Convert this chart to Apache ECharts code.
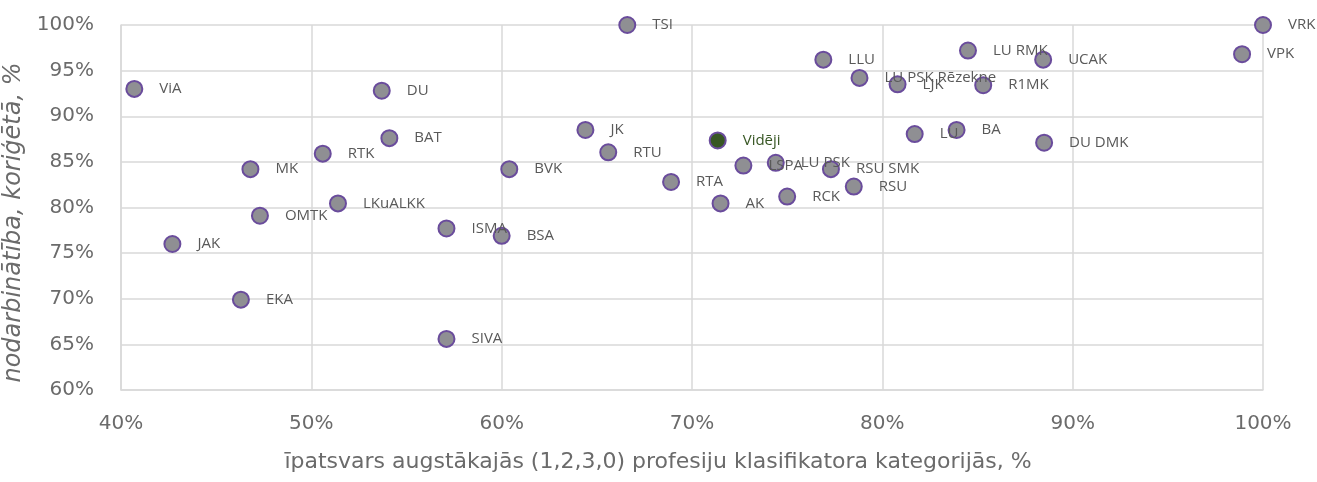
<!DOCTYPE html>
<html>
<head>
<meta charset="utf-8">
<script src="https://cdn.jsdelivr.net/npm/echarts@6/dist/echarts.min.js"></script>
<style>
  html, body { margin: 0; padding: 0; background: #fff; }
  #chart { width: 1317px; height: 482px; }
</style>
</head>
<body>
<div id="chart"></div>
<script>
// institutions
const names = [
  'VRK', 'VPK', 'LU RMK', 'UCAK', 'LLU', 'LU PSK Rēzekne', 'LJK', 'R1MK',
  'LU', 'BA', 'DU DMK', 'LSPA', 'LU PSK', 'RSU SMK', 'RSU', 'RCK', 'AK', 'RTA',
  'TSI', 'ViA', 'DU', 'BAT', 'RTK', 'MK', 'BVK', 'JK', 'RTU', 'LKuALKK',
  'OMTK', 'JAK', 'EKA', 'SIVA', 'ISMA', 'BSA'
];
// share in higher occupation groups, %
const shareTop = [
  100, 98.9, 84.5, 88.45, 76.9, 78.8, 80.8, 85.3,
  81.7, 83.9, 88.5, 72.7, 74.4, 77.3, 78.5, 75.0, 71.5, 68.9,
  66.6, 40.7, 53.7, 54.1, 50.6, 46.8, 60.4, 64.4, 65.6, 51.4,
  47.3, 42.7, 46.3, 57.1, 57.1, 60.0
];
// employment, adjusted, %
const employed = [
  100, 96.8, 97.2, 96.2, 96.2, 94.2, 93.5, 93.4,
  88.05, 88.5, 87.1, 84.6, 84.9, 84.2, 82.3, 81.2, 80.45, 82.8,
  100, 93.0, 92.8, 87.6, 85.9, 84.2, 84.2, 88.5, 86.05, 80.45,
  79.1, 76.0, 69.9, 65.6, 77.7, 76.9
];
const avgName = 'Vidēji';
const avgPoint = [71.35, 87.35];

const xTicks = { min: 40, max: 100, step: 10 };
const yTicks = { min: 60, max: 100, step: 5 };

const chart = echarts.init(document.getElementById('chart'));

const points = names.map((n, i) => ({ name: n, value: [shareTop[i], employed[i]] }));

const axisGray = '#6b6b6b';
const gridLine = { show: true, lineStyle: { color: '#d9d9d9', width: 1.5 } };

const labelStyle = {
  show: true,
  position: 'right',
  distance: 16,
  formatter: '{b}',
  fontFamily: 'Open Sans',
  fontSize: 15,
  color: '#595959'
};

const option = {
  animation: false,
  grid: { left: 121, right: 54, top: 25, bottom: 92, outerBoundsMode: 'none' },
  xAxis: {
    type: 'value',
    min: xTicks.min,
    max: xTicks.max,
    interval: xTicks.step,
    name: 'īpatsvars augstākajās (1,2,3,0) profesiju klasifikatora kategorijās, %',
    nameLocation: 'middle',
    nameGap: 61,
    nameTextStyle: {
      fontFamily: 'DejaVu Sans',
      fontSize: 22,
      color: axisGray,
      padding: [0, 68, 0, 0]
    },
    axisLine: gridLine,
    axisTick: { show: false },
    axisLabel: {
      formatter: '{value}%',
      margin: 24,
      fontFamily: 'DejaVu Sans',
      fontSize: 20,
      color: axisGray
    },
    splitLine: gridLine
  },
  yAxis: {
    type: 'value',
    min: yTicks.min,
    max: yTicks.max,
    interval: yTicks.step,
    name: 'nodarbinātība, koriģētā, %',
    nameLocation: 'middle',
    nameGap: 92,
    nameTextStyle: {
      fontFamily: 'DejaVu Sans',
      fontSize: 24,
      fontStyle: 'italic',
      color: axisGray,
      padding: [0, 30, 0, 0]
    },
    axisLine: gridLine,
    axisTick: { show: false },
    axisLabel: {
      formatter: '{value}%',
      margin: 27,
      fontFamily: 'DejaVu Sans',
      fontSize: 20,
      color: axisGray
    },
    splitLine: gridLine
  },
  series: [
    {
      type: 'scatter',
      symbolSize: 16,
      data: points,
      itemStyle: { color: '#8f8f93', borderColor: '#6a4c9c', borderWidth: 2, opacity: 1 },
      label: labelStyle
    },
    {
      type: 'scatter',
      symbolSize: 16,
      data: [{ name: avgName, value: avgPoint }],
      itemStyle: { color: '#375623', borderColor: '#6a4c9c', borderWidth: 2, opacity: 1 },
      label: Object.assign({}, labelStyle, { color: '#375623' })
    }
  ]
};

chart.setOption(option);
</script>
</body>
</html>
